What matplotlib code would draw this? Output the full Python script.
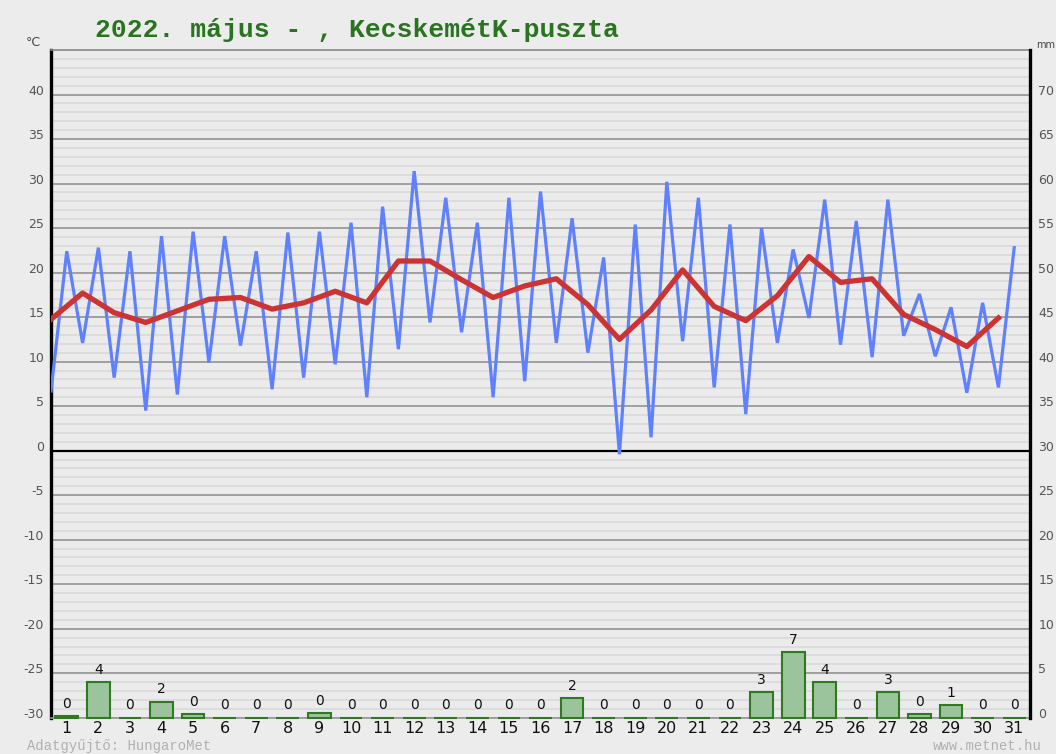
import numpy as np
import matplotlib
matplotlib.use("Agg")
import matplotlib.pyplot as plt
from matplotlib.transforms import ScaledTranslation

plt.rcParams['axes.unicode_minus'] = False

# daily data, May 2022
days = np.arange(1, 32)
t_min = [6.7, 12.1, 8.2, 4.5, 6.3, 9.9, 11.8, 6.9, 8.2, 9.7, 6.0, 11.4, 14.4, 13.3, 6.0, 7.8,
         12.1, 11.0, -0.4, 1.5, 12.3, 7.1, 4.1, 12.1, 14.9, 11.9, 10.5, 12.9, 10.6, 6.5, 7.1]
t_max = [22.4, 22.8, 22.4, 24.1, 24.6, 24.1, 22.4, 24.5, 24.6, 25.6, 27.4, 31.4, 28.4, 25.6, 28.4, 29.1,
         26.1, 21.7, 25.4, 30.2, 28.4, 25.4, 25.0, 22.6, 28.2, 25.8, 28.2, 17.6, 16.1, 16.6, 22.8]
t_mean = [14.75, 17.7, 15.5, 14.4, 15.7, 17.0, 17.2, 15.9, 16.6, 17.9, 16.6, 21.3, 21.3, 19.2, 17.2, 18.5,
          19.3, 16.4, 12.5, 15.8, 20.3, 16.2, 14.6, 17.4, 21.8, 18.9, 19.3, 15.3, 13.6, 11.7, 14.9]
precip = [0.2, 4.0, 0, 1.8, 0.4, 0, 0, 0, 0.5, 0, 0, 0, 0, 0, 0, 0,
          2.2, 0, 0, 0, 0, 0, 2.9, 7.4, 4.0, 0, 2.9, 0.4, 1.4, 0, 0]

title = "2022. május - , KecskemétK-puszta"

W, H = 1056, 754
fig = plt.figure(figsize=(W / 100, H / 100), dpi=100, facecolor='#ececec')
ax = fig.add_axes([51 / W, 1 - 717.75 / H, (1030 - 51) / W, (717.75 - 50) / H])
ax.set_facecolor('#ebebeb')

# min at d-0.5, max at d -> zigzag
xs = np.ravel(np.column_stack([days - 0.5, days]))
ys = np.ravel(np.column_stack([t_min, t_max]))

ax.set_xlim(0.5, 31.5)
ax.set_ylim(-30, 45)
ax.set_yticks(np.arange(-30, 45, 5))
ax.set_yticks(np.arange(-30, 46, 1), minor=True)
ax.grid(which='minor', axis='y', color='#dadada', lw=1.2)
ax.grid(which='major', axis='y', color='#9a9a9a', lw=1.3)
ax.axhline(0, color='black', lw=1.6, zorder=2)

ax.plot(xs, ys, color='#5f80ff', lw=2.3, zorder=3, solid_joinstyle='miter')
ax.plot(days - 0.5, t_mean, color='#cc3333', lw=3.8, zorder=4)

ax.set_xticks(days)
ax.set_xticklabels([str(d) for d in days], fontsize=11.5, color='#111111')
ax.tick_params(axis='x', length=0, pad=2)
ax.tick_params(axis='y', which='both', length=0, pad=5, labelsize=9, labelcolor='#555555')

ax.spines['left'].set_linewidth(2.4)
ax.spines['left'].set_color('black')
ax.spines['right'].set_visible(False)
ax.spines['top'].set_color('#888888')
ax.spines['top'].set_linewidth(1.2)
ax.spines['bottom'].set_color('#999999')
ax.spines['bottom'].set_linewidth(1.2)

# precipitation on mm axis
ax2 = ax.twinx()
ax2.set_ylim(0, 75)
ax2.set_yticks(np.arange(0, 75, 5))
bars = ax2.bar(days, precip, width=0.72, color='#9cc49c', edgecolor='#2f7a1f', lw=1.5, zorder=3)
for b in bars:
    b.set_clip_on(False)
for d, v in zip(days, precip):
    ax2.text(d, v + 0.6, f"{v:.0f}", ha='center', va='bottom', fontsize=10, color='#111111')
ax2.tick_params(axis='y', length=0, pad=6, labelsize=9, labelcolor='#555555')
ax2.spines['right'].set_linewidth(2.4)
ax2.spines['right'].set_color('black')
for s in ['left', 'top', 'bottom']:
    ax2.spines[s].set_visible(False)

# lift y tick labels slightly above their grid lines
off = ScaledTranslation(0, 0.05, fig.dpi_scale_trans)
for lab in ax.get_yticklabels() + ax2.get_yticklabels():
    lab.set_transform(lab.get_transform() + off)

fig.text(95 / W, 1 - 30 / H, title, fontsize=19, fontweight='bold', color='#2a7320',
         family='Liberation Mono', va='center', ha='left')
fig.text(33 / W, 1 - 43 / H, "°C", fontsize=9, color='#444444', va='center', ha='center')
fig.text(1036 / W, 1 - 45 / H, "mm", fontsize=7, color='#444444', va='center', ha='left')
fig.text(27 / W, 1 - 746 / H, "Adatgyűjtő: HungaroMet", fontsize=10, color='#b0b0b0',
         family='Liberation Mono', va='center', ha='left')
fig.text(1042 / W, 1 - 746 / H, "www.metnet.hu", fontsize=10, color='#b0b0b0',
         family='Liberation Mono', va='center', ha='right')

fig.savefig('out.png', dpi=100, facecolor=fig.get_facecolor())
